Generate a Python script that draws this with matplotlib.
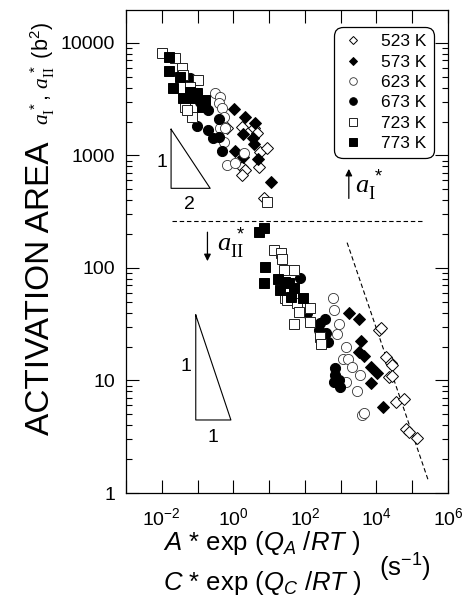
import matplotlib
matplotlib.use("Agg")
import matplotlib.pyplot as plt
import numpy as np
from matplotlib.ticker import FixedLocator, FuncFormatter, LogLocator, NullFormatter
from matplotlib.lines import Line2D

plt.rcParams['font.family'] = ['Liberation Sans', 'DejaVu Sans']
plt.rcParams['mathtext.fontset'] = 'custom'
plt.rcParams['mathtext.rm'] = 'Liberation Sans'
plt.rcParams['mathtext.it'] = 'Liberation Sans:italic'
plt.rcParams['mathtext.sf'] = 'Liberation Sans'
plt.rcParams['mathtext.bf'] = 'Liberation Sans:bold'
plt.rcParams['mathtext.cal'] = 'Liberation Serif:italic'
plt.rcParams['mathtext.tt'] = 'Liberation Serif'

# ---- data: (rate, activation area b^2) per test temperature ----
x_523 = [0.661, 1.74, 3.69, 4.57, 5.67, 8.71, 1.74, 2.15, 1.74, 5.09, 7.03,
         11700, 13600, 18000, 24800, 27700, 22300, 27700, 35800, 58700, 65300, 81100, 133000]
y_523 = [1740, 1800, 1740, 1570, 1080, 1160, 796, 743, 671, 796, 416,
         28.1, 29.5, 16.3, 14.2, 13.6, 10.8, 11.0, 6.49, 6.85, 3.68, 3.51, 3.06]

x_573 = [1.06, 2.06, 4.10, 1.85, 3.53, 3.85, 1.13, 1.82, 4.88, 11.3,
         1690, 3220, 3590, 3220, 4450, 6840, 10500, 6840, 15500]
y_573 = [2570, 2180, 1930, 1550, 1440, 1260, 1100, 977, 925, 585,
         39.5, 35.2, 22.6, 18.0, 16.6, 13.3, 11.6, 9.44, 5.77]

x_623 = [0.311, 0.430, 0.385, 0.478, 0.532, 0.430, 0.593, 0.532, 0.661, 1.13, 1.94,
         603, 643, 887, 796, 1455, 1148, 1585, 2010, 3440, 1455, 2890, 3990, 4450]
y_623 = [3570, 3330, 2910, 2620, 2210, 1740, 1740, 1330, 824, 852, 1045,
         54.5, 42.4, 31.8, 25.9, 20.0, 15.4, 15.4, 13.3, 11.2, 9.77, 8.07, 4.93, 5.11]

x_673 = [0.062, 0.0953, 0.118, 0.202, 0.163, 0.0953, 0.385, 0.202, 0.279, 0.385, 0.478,
         74.8, 115, 272, 375, 244, 400, 436, 715, 715, 643, 987, 887]
y_673 = [4850, 3570, 3010, 2540, 2810, 1830, 2110, 1690, 1420, 1470, 1100,
         81.0, 39.5, 32.2, 34.9, 28.1, 26.2, 22.1, 12.8, 11.2, 9.77, 8.70, 10.1]

x_723 = [0.0100, 0.0236, 0.0362, 0.0404, 0.106, 0.0621, 0.0450, 0.069, 0.050, 8.71,
         13.4, 22.0, 23.0, 48.6, 26.7, 28.4, 60.4, 143, 67.2, 50.8, 143, 272, 284, 31.6]
y_723 = [8090, 7310, 5950, 5200, 4690, 4090, 2720, 2210, 2540, 389,
         144, 135, 120, 96, 96, 53.7, 48.5, 43.8, 40.3, 31.8, 33.3, 24.5, 21.1, 52]

x_773 = [0.016, 0.016, 0.0203, 0.0326, 0.0404, 0.069, 0.0953, 0.163, 0.132, 0.062,
         5.09, 7.03, 7.83, 7.03, 17.3, 20.6, 36.8, 50.8, 41.9, 86.9, 28.4]
y_773 = [7460, 5640, 3950, 5020, 3220, 3220, 3570, 3110, 2720, 3690,
         207, 225, 101, 74.1, 79.8, 63.7, 73.1, 66.0, 54.8, 54.5, 75.2]

labels = ['523 K', '573 K', '623 K', '673 K', '723 K', '773 K']

# guide lines
boundary_x = [0.019, 2.1e5]
boundary_y = [263, 263]
slope_x = [1514, 2.75e5]
slope_y = [168, 1.32]

fig = plt.figure(figsize=(4.74, 5.99), dpi=100)
ax = fig.add_axes([126 / 474, 1 - 493 / 599, 322 / 474, 483 / 599])
ax.set_xscale('log')
ax.set_yscale('log')
ax.set_xlim(1e-3, 1e6)
ax.set_ylim(1, 10 ** 4.293)

styles = [
    (x_523, y_523, dict(marker='D', ms=5.7, mfc='white', mec='black', mew=0.7)),
    (x_573, y_573, dict(marker='D', ms=5.7, mfc='black', mec='black', mew=0.7)),
    (x_623, y_623, dict(marker='o', ms=7.3, mfc='white', mec='#333333', mew=0.6)),
    (x_673, y_673, dict(marker='o', ms=7.3, mfc='black', mec='black', mew=0.7)),
    (x_723, y_723, dict(marker='s', ms=6.9, mfc='white', mec='#222222', mew=0.7)),
    (x_773, y_773, dict(marker='s', ms=6.9, mfc='black', mec='black', mew=0.7)),
]
handles = []
for (xs, ys, st), lab in zip(styles, labels):
    ax.plot(xs, ys, linestyle='none', **st, zorder=3)
    hst = dict(st)
    hst['ms'] = st['ms'] * 0.75
    handles.append(Line2D([], [], linestyle='none', label=lab, **hst))

ax.plot(boundary_x, boundary_y, ls=(0, (4, 2.5)), color='black', lw=0.8, zorder=2)
ax.plot(slope_x, slope_y, ls=(0, (4, 2.5)), color='black', lw=0.8, zorder=2)

# slope triangles (log-log)
ax.plot([10 ** -1.74, 10 ** -1.74, 10 ** -0.647, 10 ** -1.74],
        [10 ** 3.233, 10 ** 2.708, 10 ** 2.708, 10 ** 3.233], color='black', lw=0.8)
ax.plot([10 ** -1.05, 10 ** -1.05, 10 ** -0.068, 10 ** -1.05],
        [10 ** 1.582, 10 ** 0.649, 10 ** 0.649, 10 ** 1.582], color='black', lw=0.8)
ax.text(10 ** -2.0, 10 ** 2.94, '1', fontsize=14, ha='center', va='center')
ax.text(10 ** -1.23, 10 ** 2.56, '2', fontsize=14, ha='center', va='center')
ax.text(10 ** -1.33, 10 ** 1.12, '1', fontsize=14, ha='center', va='center')
ax.text(10 ** -0.58, 10 ** 0.49, '1', fontsize=14, ha='center', va='center')

# regime arrows
ax.annotate('', xy=(1690, 760), xytext=(1690, 415),
            arrowprops=dict(arrowstyle='-|>', color='black', lw=0.9,
                            mutation_scale=10, shrinkA=0, shrinkB=0))
ax.text(2500, 540, r'$\mathcal{a}^{\,*}_{\mathtt{I}}$', fontsize=19, ha='left', va='center',
        zorder=6)
ax.annotate('', xy=(0.189, 115), xytext=(0.189, 208),
            arrowprops=dict(arrowstyle='-|>', color='black', lw=0.9,
                            mutation_scale=10, shrinkA=0, shrinkB=0))
ax.text(0.36, 165, r'$\mathcal{a}^{\,*}_{\mathtt{II}}$', fontsize=19, ha='left', va='center')

# axes styling
ax.xaxis.set_major_locator(FixedLocator([10.0 ** k for k in range(-3, 7)]))
ax.xaxis.set_minor_locator(FixedLocator([]))
ax.xaxis.set_major_formatter(FuncFormatter(
    lambda v, p: '' if int(round(np.log10(v))) % 2 else r'$10^{%d}$' % int(round(np.log10(v)))))
ax.yaxis.set_major_locator(FixedLocator([1, 10, 100, 1000, 10000]))
ax.yaxis.set_minor_locator(LogLocator(base=10, subs=np.arange(2, 10)))
ax.yaxis.set_minor_formatter(NullFormatter())
ax.yaxis.set_major_formatter(FuncFormatter(lambda v, p: '%d' % v))
ax.tick_params(which='both', direction='in', top=True, right=True, width=0.8)
ax.tick_params(which='major', length=9.5, labelsize=14)
ax.tick_params(which='minor', length=4.5)
ax.tick_params(axis='x', pad=10)
ax.tick_params(axis='y', pad=8)
for s in ax.spines.values():
    s.set_linewidth(0.9)

leg = ax.legend(handles=handles, loc='upper right', bbox_to_anchor=(0.9565, 0.965),
                fontsize=12.5, frameon=True, fancybox=True, edgecolor='black',
                framealpha=1, labelspacing=0.3, handletextpad=1.0,
                handlelength=1.3, borderpad=0.42, borderaxespad=0)
leg.get_frame().set_linewidth(0.9)
leg.get_frame().set_boxstyle('round', pad=0, rounding_size=0.5)

# axis titles
fig.text(41 / 474, 1 - 288 / 599, 'ACTIVATION AREA', rotation=90, fontsize=24,
         ha='center', va='center')
fig.text(43 / 474, 1 - 73 / 599,
         r'$\mathcal{a}^{\,*}_{\mathtt{I}}$, $\mathcal{a}^{\,*}_{\mathtt{II}}$ (b$^{2}$)',
         rotation=90, fontsize=15.5, ha='center', va='center')
fig.text(262 / 474, 1 - 543 / 599, r'$A$ * exp ($Q_A$ /$RT$ )', fontsize=18.5,
         ha='center', va='center')
fig.text(262 / 474, 1 - 583 / 599, r'$C$ * exp ($Q_C$ /$RT$ )', fontsize=18.5,
         ha='center', va='center')
fig.text(405 / 474, 1 - 568 / 599, r'(s$^{-1}$)', fontsize=18.5, ha='center', va='center')

fig.savefig('out.png', dpi=100)
